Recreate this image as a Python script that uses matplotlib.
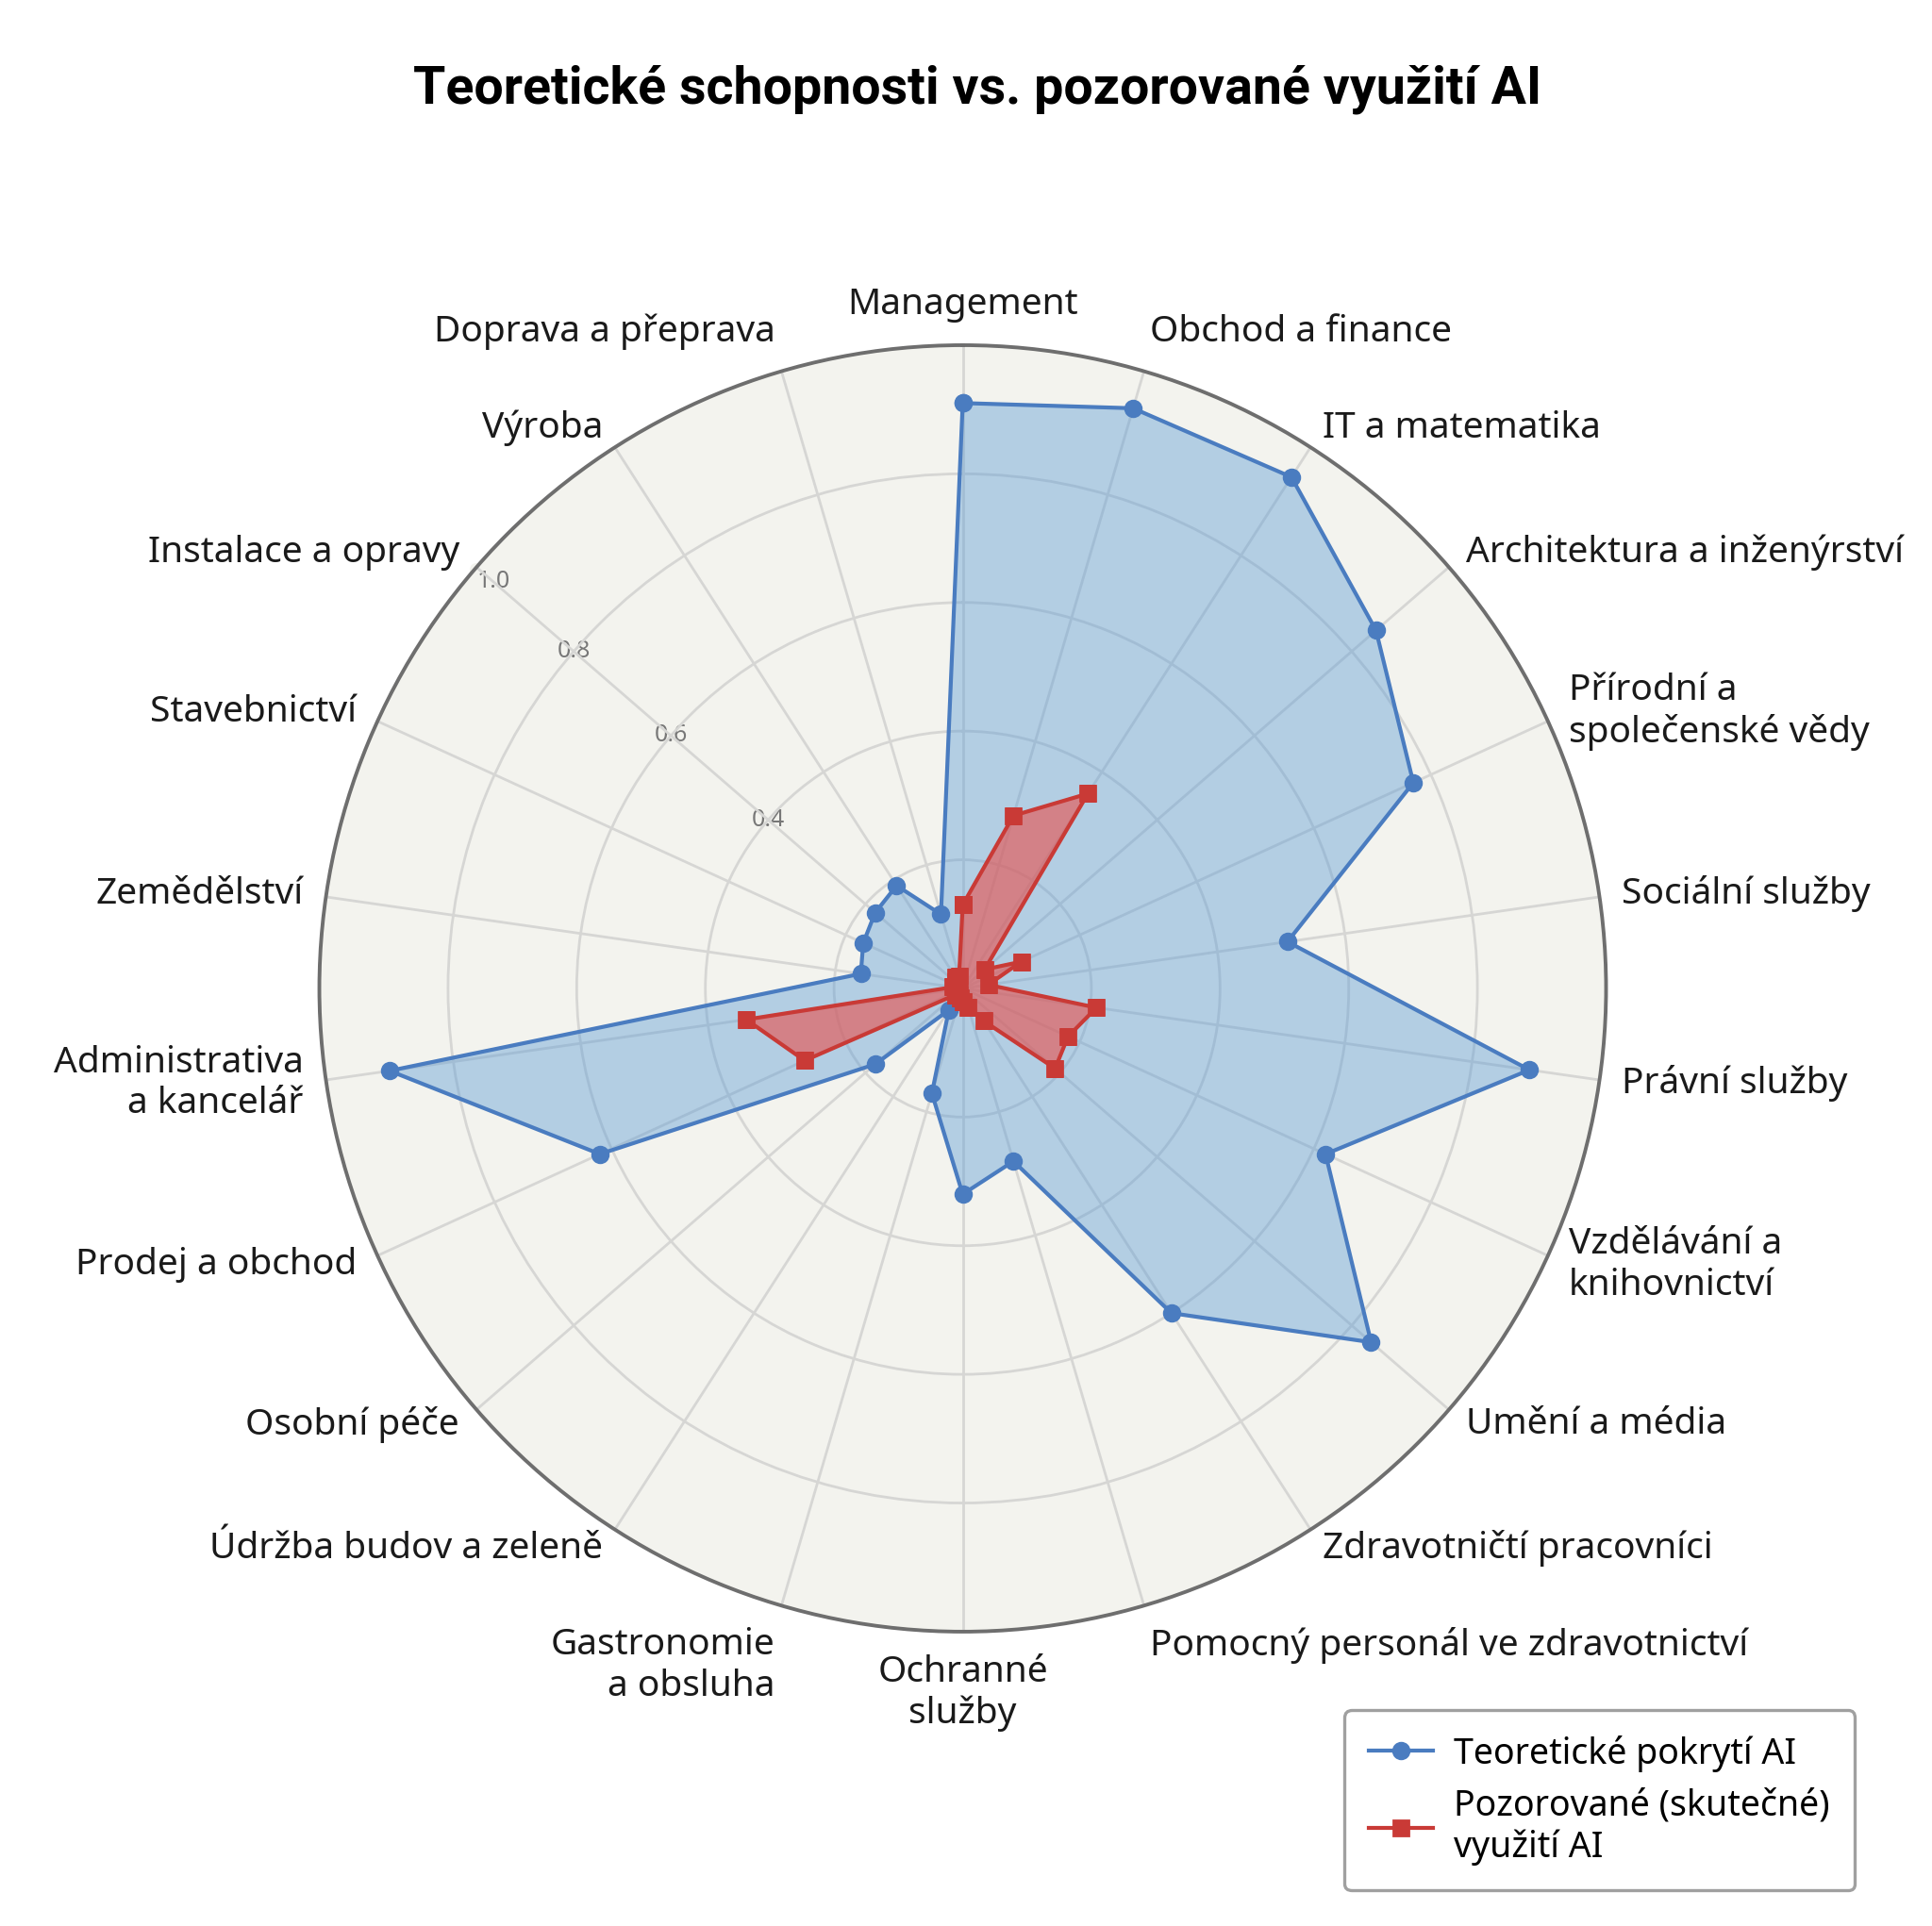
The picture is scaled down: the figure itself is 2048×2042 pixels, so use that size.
import numpy as np
import matplotlib.pyplot as plt

# categories clockwise from the top
categories = [
    'Management', 'Obchod a finance', 'IT a matematika',
    'Architektura a inženýrství', 'Přírodní a\nspolečenské vědy',
    'Sociální služby', 'Právní služby', 'Vzdělávání a\nknihovnictví',
    'Umění a média', 'Zdravotničtí pracovníci',
    'Pomocný personál ve zdravotnictví', 'Ochranné\nslužby',
    'Gastronomie\na obsluha', 'Údržba budov a zeleně', 'Osobní péče',
    'Prodej a obchod', 'Administrativa\na kancelář', 'Zemědělství',
    'Stavebnictví', 'Instalace a opravy', 'Výroba', 'Doprava a přeprava',
]

# theoretical AI coverage (blue)
theoretical = [0.91, 0.94, 0.945, 0.85, 0.77, 0.51, 0.89, 0.62, 0.84, 0.60,
               0.28, 0.32, 0.17, 0.04, 0.18, 0.62, 0.90, 0.16, 0.17, 0.18,
               0.19, 0.12]

# observed AI usage (red)
observed = [0.13, 0.28, 0.36, 0.045, 0.10, 0.04, 0.21, 0.18, 0.19, 0.06,
            0.03, 0.02, 0.015, 0.01, 0.015, 0.27, 0.34, 0.015, 0.01, 0.015,
            0.02, 0.02]

r_ticks = [0.2, 0.4, 0.6, 0.8, 1.0]
r_ticklabels = ['', '0.4', '0.6', '0.8', '1.0']

title = 'Teoretické schopnosti vs. pozorované využití AI'
label_theory = 'Teoretické pokrytí AI'
label_observed = 'Pozorované (skutečné)\nvyužití AI'

plt.rcParams['font.family'] = ['Noto Sans', 'DejaVu Sans']

n = len(categories)
angles = np.linspace(0, 2 * np.pi, n, endpoint=False)
a_closed = np.append(angles, angles[0])
t_closed = np.append(theoretical, theoretical[0])
o_closed = np.append(observed, observed[0])

fig = plt.figure(figsize=(10.24, 10.21), dpi=200)
ax = fig.add_axes([0.1653, 0.1528, 0.666, 0.668], projection='polar')
ax.set_theta_zero_location('N')
ax.set_theta_direction(-1)
ax.set_ylim(0, 1)
ax.set_facecolor('#f3f3ee')

ax.set_xticks(angles)
ax.set_xticklabels([])
ax.set_yticks(r_ticks)
ax.set_yticklabels([])
ax.grid(color='#d6d6d4', lw=1.0)
ax.spines['polar'].set_color('#6e6e6e')
ax.spines['polar'].set_linewidth(1.4)

# series
ax.fill(a_closed, t_closed, color='#5b9bd5', alpha=0.42, zorder=2)
ax.plot(a_closed, t_closed, color='#4a7cc0', lw=1.5, marker='o', ms=6,
        label=label_theory, zorder=3)
ax.fill(a_closed, o_closed, color='#e8534f', alpha=0.62, zorder=4)
ax.plot(a_closed, o_closed, color='#c93a36', lw=1.5, marker='s', ms=5.5,
        label=label_observed, zorder=5)

# radial labels along the "Instalace a opravy" spoke
lab_angle = angles[19]
for v, txt in zip(r_ticks, r_ticklabels):
    if not txt:
        continue
    rr = v if v < 1 else 0.965
    ax.text(lab_angle, rr, txt, ha='center', va='center', fontsize=9,
            color='#777777', fontweight='bold', zorder=1.5,
            bbox=dict(boxstyle='round,pad=0.3', fc='#f3f3ee', ec='none'))

# category labels
for ang, lab in zip(angles, categories):
    s, c = np.sin(ang), np.cos(ang)
    if abs(s) < 0.1:
        ha = 'center'
    elif s > 0:
        ha = 'left'
    else:
        ha = 'right'
    if c > 0.9:
        va = 'bottom'
    elif c < -0.9:
        va = 'top'
    else:
        va = 'center'
    ax.text(ang, 1.035, lab, ha=ha, va=va, fontsize=14, color='#1a1a1a',
            linespacing=1.2)

fig.text(0.506, 0.9535, title, ha='center', va='center', fontsize=20,
         fontweight='bold', family=['Roboto', 'DejaVu Sans'])

leg = ax.legend(loc='upper right', bbox_to_anchor=(0.96, 0.112),
                bbox_transform=fig.transFigure, borderaxespad=0,
                fontsize=13.5, frameon=True, fancybox=True,
                edgecolor='#888888', borderpad=0.7, labelspacing=0.45,
                handlelength=1.8, handletextpad=0.6)
leg.get_frame().set_linewidth(1.2)

fig.savefig('out.png', dpi=200, facecolor='white')
